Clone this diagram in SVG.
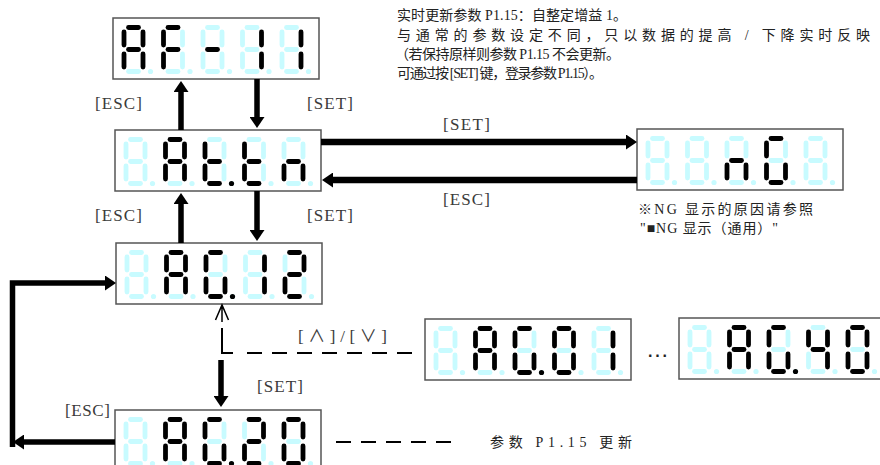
<svg xmlns="http://www.w3.org/2000/svg" xmlns:xlink="http://www.w3.org/1999/xlink" width="880" height="465" viewBox="0 0 880 465">
<style>
.on{stroke:#000;fill:#000}
.off{stroke:#c8fbff;fill:#c8fbff}
.box{fill:#fff;stroke:#555;stroke-width:1.5}
.lbl{font-family:"Liberation Serif","Noto Sans CJK SC",serif;font-size:17px;fill:#3a3a3a}
.txt{font-family:"Liberation Serif","Noto Sans CJK SC",serif;font-size:14px;fill:#222}
.thick{stroke:#000;stroke-width:5.5;fill:none}
.thickh{stroke:#000;stroke-width:6.5;fill:none}
.dash{stroke:#000;stroke-width:2;fill:none;stroke-dasharray:15 10}
</style>
<defs>
<marker id="ah" markerUnits="userSpaceOnUse" markerWidth="11" markerHeight="15" viewBox="0 0 11 15" refX="1" refY="7.5" orient="auto"><path d="M0,0 L11,7.5 L0,15 z" fill="#000"/></marker>
<line id="sa" x1="7" y1="2.5" x2="17" y2="2.5" stroke-width="4.8" stroke-linecap="round"/>
<line id="sb" x1="21.5" y1="7" x2="21.5" y2="20" stroke-width="4.8" stroke-linecap="round"/>
<line id="sc" x1="21.5" y1="29" x2="21.5" y2="42" stroke-width="4.8" stroke-linecap="round"/>
<line id="sd" x1="7" y1="46.5" x2="17" y2="46.5" stroke-width="4.8" stroke-linecap="round"/>
<line id="se" x1="2.5" y1="29" x2="2.5" y2="42" stroke-width="4.8" stroke-linecap="round"/>
<line id="sf" x1="2.5" y1="7" x2="2.5" y2="20" stroke-width="4.8" stroke-linecap="round"/>
<line id="sg" x1="7" y1="24.5" x2="17" y2="24.5" stroke-width="4.8" stroke-linecap="round"/>
<circle id="sp" cx="29" cy="46.5" r="2.6" stroke="none"/>
<g id="g8"><use href="#sa" class="off"/><use href="#sb" class="off"/><use href="#sc" class="off"/><use href="#sd" class="off"/><use href="#se" class="off"/><use href="#sf" class="off"/><use href="#sg" class="off"/><use href="#sp" class="off"/></g>
<g id="gA"><use href="#sa" class="on"/><use href="#sb" class="on"/><use href="#sc" class="on"/><use href="#sd" class="off"/><use href="#se" class="on"/><use href="#sf" class="on"/><use href="#sg" class="on"/><use href="#sp" class="off"/></g>
<g id="gF"><use href="#sa" class="on"/><use href="#sb" class="off"/><use href="#sc" class="off"/><use href="#sd" class="off"/><use href="#se" class="on"/><use href="#sf" class="on"/><use href="#sg" class="on"/><use href="#sp" class="off"/></g>
<g id="gM"><use href="#sa" class="off"/><use href="#sb" class="off"/><use href="#sc" class="off"/><use href="#sd" class="off"/><use href="#se" class="off"/><use href="#sf" class="off"/><use href="#sg" class="on"/><use href="#sp" class="off"/></g>
<g id="g1"><use href="#sa" class="off"/><use href="#sb" class="on"/><use href="#sc" class="on"/><use href="#sd" class="off"/><use href="#se" class="off"/><use href="#sf" class="off"/><use href="#sg" class="off"/><use href="#sp" class="off"/></g>
<g id="gt"><use href="#sa" class="off"/><use href="#sb" class="off"/><use href="#sc" class="off"/><use href="#sd" class="on"/><use href="#se" class="on"/><use href="#sf" class="on"/><use href="#sg" class="on"/><use href="#sp" class="off"/></g>
<g id="gn"><use href="#sa" class="off"/><use href="#sb" class="off"/><use href="#sc" class="on"/><use href="#sd" class="off"/><use href="#se" class="on"/><use href="#sf" class="off"/><use href="#sg" class="on"/><use href="#sp" class="off"/></g>
<g id="gG"><use href="#sa" class="on"/><use href="#sb" class="off"/><use href="#sc" class="on"/><use href="#sd" class="on"/><use href="#se" class="on"/><use href="#sf" class="on"/><use href="#sg" class="off"/><use href="#sp" class="off"/></g>
<g id="g2"><use href="#sa" class="on"/><use href="#sb" class="on"/><use href="#sc" class="off"/><use href="#sd" class="on"/><use href="#se" class="on"/><use href="#sf" class="off"/><use href="#sg" class="on"/><use href="#sp" class="off"/></g>
<g id="g0"><use href="#sa" class="on"/><use href="#sb" class="on"/><use href="#sc" class="on"/><use href="#sd" class="on"/><use href="#se" class="on"/><use href="#sf" class="on"/><use href="#sg" class="off"/><use href="#sp" class="off"/></g>
<g id="g4"><use href="#sa" class="off"/><use href="#sb" class="on"/><use href="#sc" class="on"/><use href="#sd" class="off"/><use href="#se" class="off"/><use href="#sf" class="on"/><use href="#sg" class="on"/><use href="#sp" class="off"/></g>
</defs>
<rect width="880" height="465" fill="#fff"/>

<g id="n-af11">
<rect class="box" x="113" y="18" width="206" height="61"/>
<use href="#gA" x="121.5" y="25"/><use href="#gF" x="161" y="25"/><use href="#gM" x="200.5" y="25"/><use href="#g1" x="240" y="25"/><use href="#g1" x="279.5" y="25"/>
</g>
<g id="n-attn">
<rect class="box" x="115" y="130" width="206" height="61"/>
<use href="#g8" x="123.5" y="137"/><use href="#gA" x="163" y="137"/><use href="#gt" x="202.5" y="137"/><use href="#sp" class="on" x="202.5" y="137"/><use href="#gt" x="242" y="137"/><use href="#gn" x="281.5" y="137"/>
</g>
<g id="n-ag12">
<rect class="box" x="116" y="243" width="206" height="61"/>
<use href="#g8" x="124.5" y="250"/><use href="#gA" x="164" y="250"/><use href="#gG" x="203.5" y="250"/><use href="#sp" class="on" x="203.5" y="250"/><use href="#g1" x="243" y="250"/><use href="#g2" x="282.5" y="250"/>
</g>
<g id="n-ag20">
<rect class="box" x="115" y="410" width="206" height="61"/>
<use href="#g8" x="123.5" y="417"/><use href="#gA" x="163" y="417"/><use href="#gG" x="202.5" y="417"/><use href="#sp" class="on" x="202.5" y="417"/><use href="#g2" x="242" y="417"/><use href="#g0" x="281.5" y="417"/>
</g>
<g id="n-ng">
<rect class="box" x="637" y="129" width="206" height="61"/>
<use href="#g8" x="645.5" y="136"/><use href="#g8" x="685" y="136"/><use href="#gn" x="724.5" y="136"/><use href="#gG" x="764" y="136"/><use href="#g8" x="803.5" y="136"/>
</g>
<g id="n-ag01">
<rect class="box" x="425" y="319" width="206" height="61"/>
<use href="#g8" x="433.5" y="326"/><use href="#gA" x="473" y="326"/><use href="#gG" x="512.5" y="326"/><use href="#sp" class="on" x="512.5" y="326"/><use href="#g0" x="552" y="326"/><use href="#g1" x="591.5" y="326"/>
</g>
<g id="n-ag40">
<rect class="box" x="679" y="318" width="206" height="61"/>
<use href="#g8" x="687.5" y="325"/><use href="#gA" x="727" y="325"/><use href="#gG" x="766.5" y="325"/><use href="#sp" class="on" x="766.5" y="325"/><use href="#g4" x="806" y="325"/><use href="#g0" x="845.5" y="325"/>
</g>

<g id="connectors">
<line class="thick" x1="181" y1="130" x2="181" y2="91" marker-end="url(#ah)"/>
<line class="thick" x1="257" y1="79" x2="257" y2="118" marker-end="url(#ah)"/>
<line class="thick" x1="181" y1="243" x2="181" y2="203" marker-end="url(#ah)"/>
<line class="thick" x1="257" y1="191" x2="257" y2="231" marker-end="url(#ah)"/>
<line class="thickh" x1="321" y1="142" x2="627" y2="142" marker-end="url(#ah)"/>
<line class="thickh" x1="637" y1="180" x2="332" y2="180" marker-end="url(#ah)"/>
<line class="thick" x1="115" y1="442" x2="23" y2="442" marker-end="url(#ah)"/>
<path class="thick" d="M12.5,447 V283 H106" marker-end="url(#ah)"/>
<path d="M222,306 V322 M215.5,320 L222,305 L228.5,320" stroke="#000" stroke-width="1.5" fill="none"/>
<path d="M222,328 V353 H233" stroke="#000" stroke-width="2" fill="none"/>
<line class="dash" x1="247" y1="353" x2="412" y2="353"/>
<line class="thick" x1="221" y1="360" x2="221" y2="397" marker-end="url(#ah)"/>
<line class="dash" x1="336" y1="442" x2="451" y2="442"/>
</g>

<g id="labels">
<text class="lbl" x="95" y="109" textLength="47" lengthAdjust="spacing">[ESC]</text>
<text class="lbl" x="307" y="109" textLength="46" lengthAdjust="spacing">[SET]</text>
<text class="lbl" x="95" y="221" textLength="47" lengthAdjust="spacing">[ESC]</text>
<text class="lbl" x="307" y="221" textLength="46" lengthAdjust="spacing">[SET]</text>
<text class="lbl" x="443" y="130" textLength="47" lengthAdjust="spacing">[SET]</text>
<text class="lbl" x="443" y="205" textLength="47" lengthAdjust="spacing">[ESC]</text>
<text class="lbl" x="298" y="342" textLength="89" lengthAdjust="spacing">[∧]/[∨]</text>
<text class="lbl" x="257" y="392" textLength="46" lengthAdjust="spacing">[SET]</text>
<text class="lbl" x="65" y="416" textLength="45" lengthAdjust="spacing">[ESC]</text>
<text x="648" y="357" font-family="Liberation Sans, sans-serif" font-size="16" font-weight="bold" fill="#222" textLength="19" lengthAdjust="spacing">...</text>
</g>

<g id="notes">
<text class="txt" x="397" y="20" textLength="230" lengthAdjust="spacing">实时更新参数 P1.15：自整定增益 1。</text>
<text class="txt" x="397" y="39.5" textLength="473" lengthAdjust="spacing">与通常的参数设定不同，只以数据的提高 / 下降实时反映</text>
<text class="txt" x="395" y="58.5" textLength="225" lengthAdjust="spacing">（若保持原样则参数 P1.15 不会更新。</text>
<text class="txt" x="397" y="77.5" textLength="206" lengthAdjust="spacing">可通过按 [SET] 键，登录参数 P1.15）。</text>
<text class="txt" x="638" y="214" textLength="175" lengthAdjust="spacing">※NG 显示的原因请参照</text>
<text class="txt" x="640" y="233" textLength="138" lengthAdjust="spacing">"■NG 显示（通用）"</text>
<text class="txt" x="490" y="447" font-size="17" textLength="142" lengthAdjust="spacing">参数 P1.15 更新</text>
</g>
</svg>
